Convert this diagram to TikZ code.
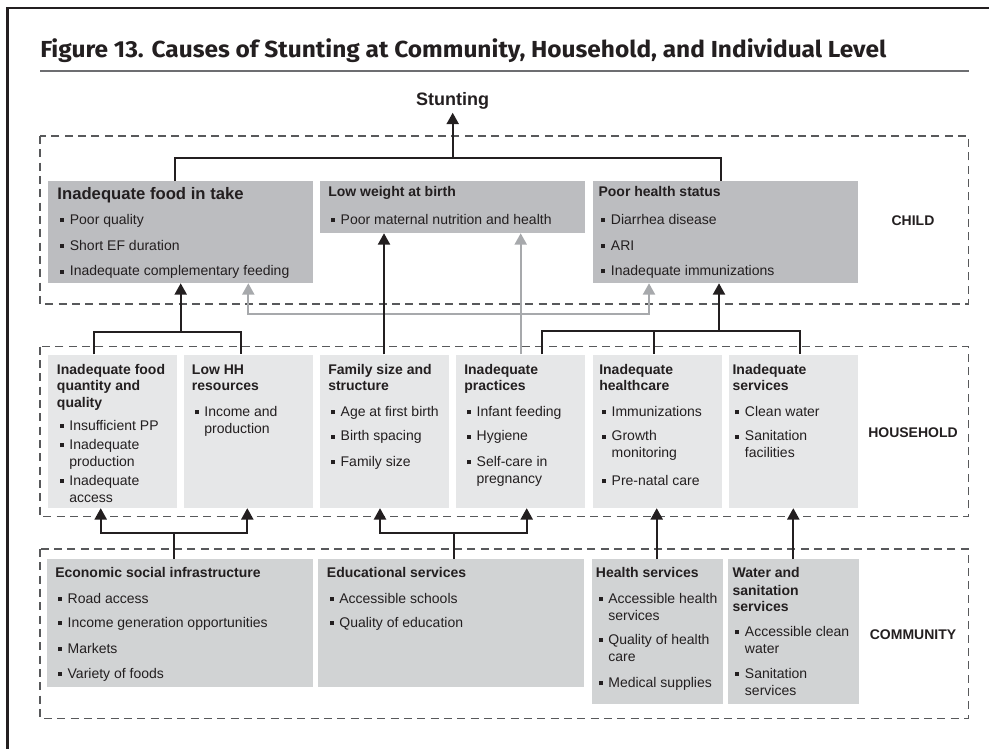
\documentclass[tikz,border=0pt]{standalone}
\usepackage{fontspec}
\usepackage{graphicx}
\setmainfont{Liberation Sans}
\newfontfamily\titlefont{Fira Sans}
\usetikzlibrary{arrows.meta}

\definecolor{childfill}{HTML}{BCBDC0}
\definecolor{hhfill}{HTML}{E6E7E8}
\definecolor{comfill}{HTML}{D1D3D4}
\definecolor{paleline}{HTML}{A7A9AC}
\definecolor{ink}{HTML}{231F20}
\definecolor{zonedash}{HTML}{58595B}
\definecolor{rulegray}{HTML}{6D6E71}

\newcommand{\bul}{\makebox[9.3pt][l]{\hspace{2pt}\rule[1.7pt]{3pt}{3pt}}}
\newcommand{\cnt}{\hspace*{9.3pt}}
\newcommand{\bigtitle}{\fontsize{12.5pt}{12.4pt}\selectfont\bfseries}

\tikzset{
  zone/.style={draw=zonedash, line width=1pt, dash pattern=on 6pt off 4pt},
  childbox/.style={fill=childfill, anchor=north west, inner sep=0pt, minimum width=198.6pt},
  hhbox/.style={fill=hhfill, anchor=north west, inner sep=0pt, minimum width=96.75pt, minimum height=115pt},
  combox/.style={fill=comfill, anchor=north west, inner sep=0pt},
  txt/.style={anchor=base west, inner sep=0pt, text=ink, font=\fontsize{10.5pt}{12.4pt}\selectfont},
  zonelabel/.style={text=ink, font=\bfseries\fontsize{10.5pt}{12.4pt}\selectfont},
  link/.style={draw=ink, line width=1.5pt},
  arr/.style={link, -{Triangle[width=9pt,length=8.5pt]}},
  palearr/.style={draw=paleline, line width=1.5pt, -{Triangle[width=9pt,length=8.5pt]}}
}

\begin{document}
\begin{tikzpicture}[x=0.75pt, y=-0.75pt]
    \useasboundingbox (0,0) rectangle (989,749);

    % Frame and heading
    \draw[line width=1.6pt, ink] (989,8) -- (7.5,8) -- (7.5,749);
    \node[anchor=base west, inner sep=0pt, text=ink] (title) at (40,57.7)
        {\resizebox{634.5pt}{\height}{\titlefont\bfseries\fontsize{17.4pt}{20pt}\selectfont Figure 13. Causes of Stunting at Community, Household, and Individual Level}};
    \draw[rulegray, line width=1.5pt] (40,71) -- (969,71);
    \node[anchor=base, inner sep=2pt, text=ink, font=\bfseries\fontsize{13.5pt}{15pt}\selectfont] (stunt) at (452.7,106) {Stunting};

    % Zones
    \draw[zone] (40,136) rectangle (968.3,304);
    \draw[zone] (40,346.7) rectangle (968.3,516.7);
    \draw[zone] (40,549) rectangle (968.3,718.3);
    \node[zonelabel] (childlbl) at (913,221) {CHILD};
    \node[zonelabel] (hhlbl) at (913,432.7) {HOUSEHOLD};
    \node[zonelabel] (comlbl) at (913,634.3) {COMMUNITY};

    % Child boxes
    \node[childbox, minimum height=76.3pt] (c1) at (47.7,181) {};
    \node[childbox, minimum height=38.8pt] (c2) at (320,181) {};
    \node[childbox, minimum height=76.3pt] (c3) at (593,181) {};
    \node[txt] (c1t) at (57.2,199) {\parbox[t]{195pt}{{\bigtitle Inadequate food in take}\\[6.6pt]
        \bul Poor quality\\[6.9pt]
        \bul Short EF duration\\[6.9pt]
        \bul Inadequate complementary feeding}};
    \node[txt] (c2t) at (328,196) {\parbox[t]{195pt}{\textbf{Low weight at birth}\\[8.8pt]
        \bul Poor maternal nutrition and health}};
    \node[txt] (c3t) at (598.3,196) {\parbox[t]{195pt}{\textbf{Poor health status}\\[8.8pt]
        \bul Diarrhea disease\\[6.9pt]
        \bul ARI\\[6.9pt]
        \bul Inadequate immunizations}};

    % Household boxes
    \node[hhbox] (h1) at (47.7,354.3) {};
    \node[hhbox] (h2) at (184,354.3) {};
    \node[hhbox] (h3) at (320,354.3) {};
    \node[hhbox] (h4) at (456,354.3) {};
    \node[hhbox] (h5) at (593,354.3) {};
    \node[hhbox] (h6) at (729,354.3) {};
    \node[txt] (h1t) at (56.7,374.3) {\parbox[t]{95pt}{\textbf{Inadequate food}\\ \textbf{quantity and}\\ \textbf{quality}\\[4.6pt]
        \bul Insufficient PP\\[2.2pt]
        \bul Inadequate\\ \cnt production\\[2.2pt]
        \bul Inadequate\\ \cnt access}};
    \node[txt] (h2t) at (191.7,374.3) {\parbox[t]{95pt}{\textbf{Low HH}\\ \textbf{resources}\\[6.9pt]
        \bul Income and\\ \cnt production}};
    \node[txt] (h3t) at (328,374.3) {\parbox[t]{95pt}{\textbf{Family size and}\\ \textbf{structure}\\[6.9pt]
        \bul Age at first birth\\[5.8pt]
        \bul Birth spacing\\[6.9pt]
        \bul Family size}};
    \node[txt] (h4t) at (464,374.3) {\parbox[t]{95pt}{\textbf{Inadequate}\\ \textbf{practices}\\[6.9pt]
        \bul Infant feeding\\[5.8pt]
        \bul Hygiene\\[6.9pt]
        \bul Self-care in\\ \cnt pregnancy}};
    \node[txt] (h5t) at (599,374.3) {\parbox[t]{95pt}{\textbf{Inadequate}\\ \textbf{healthcare}\\[6.9pt]
        \bul Immunizations\\[5.8pt]
        \bul Growth\\ \cnt monitoring\\[8.8pt]
        \bul Pre-natal care}};
    \node[txt] (h6t) at (732.3,374.3) {\parbox[t]{95pt}{\textbf{Inadequate}\\ \textbf{services}\\[6.9pt]
        \bul Clean water\\[5.8pt]
        \bul Sanitation\\ \cnt facilities}};

    % Community boxes
    \node[combox, minimum width=199.5pt, minimum height=95.8pt] (m1) at (47,559) {};
    \node[combox, minimum width=199.5pt, minimum height=95.8pt] (m2) at (318,559) {};
    \node[combox, minimum width=98.25pt, minimum height=108.2pt] (m3) at (592,559) {};
    \node[combox, minimum width=98.25pt, minimum height=108.2pt] (m4) at (728,559) {};
    \node[txt] (m1t) at (55,577.7) {\parbox[t]{195pt}{\textbf{Economic social infrastructure}\\[6.8pt]
        \bul Road access\\[5.6pt]
        \bul Income generation opportunities\\[7.1pt]
        \bul Markets\\[6.35pt]
        \bul Variety of foods}};
    \node[txt] (m2t) at (326.7,577.7) {\parbox[t]{195pt}{\textbf{Educational services}\\[6.8pt]
        \bul Accessible schools\\[5.6pt]
        \bul Quality of education}};
    \node[txt] (m3t) at (595.7,577.7) {\parbox[t]{95pt}{\textbf{Health services}\\[6.8pt]
        \bul Accessible health\\[0.8pt] \cnt services\\[5.1pt]
        \bul Quality of health\\[0.6pt] \cnt care\\[7.1pt]
        \bul Medical supplies}};
    \node[txt] (m4t) at (732.3,577.7) {\parbox[t]{95pt}{\textbf{Water and}\\[0.6pt] \textbf{sanitation}\\ \textbf{services}\\[6.35pt]
        \bul Accessible clean\\ \cnt water\\[6.35pt]
        \bul Sanitation\\[0.6pt] \cnt services}};

    % Child to stunting
    \coordinate (sj) at (452.7,157.7);
    \coordinate (sl) at (175,157.7);
    \coordinate (sr) at (720.7,157.7);
    \draw[link] (c1.north -| sl) -- (sl) -- (sr) -- (c3.north -| sr);
    \draw[arr] (sj) -- (stunt.south);

    % Practices to child (grey)
    \coordinate (gj) at (520.7,314);
    \coordinate (gl) at (248.3,314);
    \coordinate (gr) at (649,314);
    \draw[palearr] (h4.north -| gj) -- (gj |- c2.south);
    \draw[palearr] (gj) -- (gl) -- (gl |- c1.south);
    \draw[palearr] (gj) -- (gr) -- (gr |- c3.south);

    % Household to child
    \coordinate (fj) at (180.7,331.7);
    \coordinate (fl) at (94,331.7);
    \coordinate (fr) at (240.7,331.7);
    \draw[link] (h1.north -| fl) -- (fl) -- (fr) -- (h2.north -| fr);
    \draw[arr] (fj) -- (fj |- c1.south);
    \coordinate (wx) at (384,331.7);
    \draw[arr] (h3.north -| wx) -- (wx |- c2.south);
    \coordinate (pj) at (719,331);
    \coordinate (pl) at (542.3,331);
    \coordinate (pm) at (654,331);
    \coordinate (pr) at (800,331);
    \draw[link] (h4.north -| pl) -- (pl) -- (pr) -- (h6.north -| pr);
    \draw[link] (pm) -- (h5.north -| pm);
    \draw[arr] (pj) -- (pj |- c3.south);

    % Community to household
    \coordinate (ej) at (174,533.3);
    \coordinate (el) at (100.7,533.3);
    \coordinate (er) at (247.3,533.3);
    \draw[link] (m1.north -| ej) -- (ej);
    \draw[arr] (ej) -- (el) -- (el |- h1.south);
    \draw[arr] (ej) -- (er) -- (er |- h2.south);
    \coordinate (dj) at (454.3,533.3);
    \coordinate (dl) at (380,533.3);
    \coordinate (dr) at (526.7,533.3);
    \draw[link] (m2.north -| dj) -- (dj);
    \draw[arr] (dj) -- (dl) -- (dl |- h3.south);
    \draw[arr] (dj) -- (dr) -- (dr |- h4.south);
    \coordinate (hx) at (656.7,533.3);
    \draw[arr] (m3.north -| hx) -- (hx |- h5.south);
    \coordinate (sx) at (793.3,533.3);
    \draw[arr] (m4.north -| sx) -- (sx |- h6.south);
\end{tikzpicture}
\end{document}
